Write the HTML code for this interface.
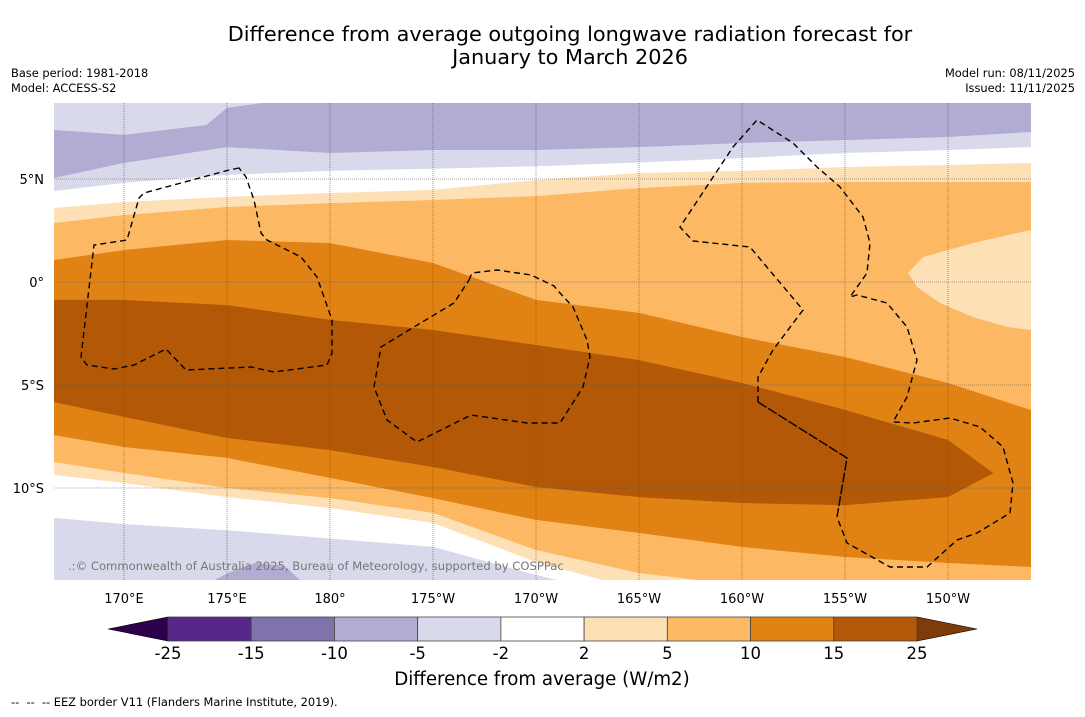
<!DOCTYPE html>
<html><head><meta charset="utf-8">
<style>
html,body{margin:0;padding:0;background:#fff;}
body{width:1085px;height:713px;overflow:hidden;font-family:"DejaVu Sans","Liberation Sans",sans-serif;}
svg text{font-family:"DejaVu Sans","Liberation Sans",sans-serif;white-space:pre;}
</style></head>
<body>
<svg id="chart" width="1085" height="713" viewBox="0 0 1085 713" xmlns="http://www.w3.org/2000/svg">
<defs><clipPath id="mapclip"><rect x="54" y="103" width="977" height="477"/></clipPath></defs>
<text x="570" y="41" font-size="20.8" text-anchor="middle">Difference from average outgoing longwave radiation forecast for</text>
<text x="570" y="64" font-size="20.8" text-anchor="middle">January to March 2026</text>
<text x="11" y="77" font-size="11.4">Base period: 1981-2018</text>
<text x="11" y="92" font-size="11.4">Model: ACCESS-S2</text>
<text x="1075" y="77" font-size="11.4" text-anchor="end">Model run: 08/11/2025</text>
<text x="1075" y="92" font-size="11.4" text-anchor="end">Issued: 11/11/2025</text>
<g id="map" clip-path="url(#mapclip)"></g>
<text x="68" y="570" font-size="11.6" fill="#777">.:© Commonwealth of Australia 2025, Bureau of Meteorology, supported by COSPPac</text>
<g id="cbar"></g>
<text x="542" y="685" font-size="18.2" text-anchor="middle">Difference from average (W/m2)</text>
<text x="11" y="706" font-size="11.4" xml:space="preserve">--  --  -- EEZ border V11 (Flanders Marine Institute, 2019).</text>
</svg>
<script>
// ---- data ----
const lons = [166.6,170,175,180,185,190,195,200,205,210,214];
const topLavLons = [166.6,170,174,175,177.5];
const topLavLat = [7.38,7.14,7.62,8.45,8.8];
const purpleLavLat = [5.05,5.78,6.55,6.26,6.41,6.41,6.55,6.75,6.89,7.04,7.28];
const lavWhiteLat = [4.42,4.81,5.20,5.40,5.50,5.62,5.80,6.02,6.26,6.41,6.55];
const whitePaleLat = [3.59,3.88,4.13,4.32,4.47,4.95,5.29,5.39,5.58,5.68,5.78];
const paleTanLat = [2.86,3.25,3.64,3.83,3.98,4.17,4.56,4.81,4.85,4.85,4.85];
const tanOrangeLat = [1.07,1.55,2.04,1.89,0.92,-0.87,-1.50,-2.67,-3.64,-4.90,-6.21];
const orangeTanLowLat = [-7.43,-8.01,-8.54,-9.51,-10.49,-11.55,-12.18,-12.86,-13.35,-13.64,-13.83];
const tanPaleLowLat = [-8.74,-9.27,-10.0,-10.49,-11.21,-13.01,-14.13,-14.71,-15.19,-15.44,-15.68];
const paleWhiteLowLat = [-9.37,-9.76,-10.44,-10.97,-11.70,-13.59,-14.95,-15.44,-15.92,-16.17,-16.41];
const whiteLavLowLat = [-11.45,-11.75,-12.05,-12.45,-12.86,-14.22,-15.44,-15.92,-16.41,-16.65,-16.89];
const darkLons = [166.6,170,175,180,185,190,195,200,205,210,212.2];
const darkUpperLat = [-0.87,-0.87,-1.12,-1.84,-2.33,-3.06,-3.79,-4.90,-6.21,-7.67,-9.27];
const darkLowerLat = [-5.83,-6.55,-7.57,-8.16,-8.98,-9.95,-10.44,-10.73,-10.83,-10.44,-9.27];
const paleBlobLon = [213.98,211.21,208.79,208.06,208.50,209.61,211.21,212.86,213.98];
const paleBlobLat = [2.52,1.89,1.21,0.44,-0.24,-1.02,-1.70,-2.18,-2.33];
const cbarLevels = ["-25","-15","-10","-5","-2","2","5","10","15","25"];
const cbarColors = ["#542788","#8073ac","#b2abd2","#d8daeb","#ffffff","#fee0b6","#fdb863","#e08214","#b35806"];
const lonTicks = [170,175,180,185,190,195,200,205,210];
const lonTickLabels = ["170°E","175°E","180°","175°W","170°W","165°W","160°W","155°W","150°W"];
const latTicks = [5,0,-5,-10];
const latTickLabels = ["5°N","0°","5°S","10°S"];

// ---- axes ----
const X = lon => 124 + (lon-170)*20.6;
const Y = lat => 282 - lat*20.6;
const NS="http://www.w3.org/2000/svg";
const map=document.getElementById('map'), cb=document.getElementById('cbar'), svg=document.getElementById('chart');
function mk(tag, attrs, parent){const e=document.createElementNS(NS,tag);for(const k in attrs)e.setAttribute(k,attrs[k]);parent.appendChild(e);return e;}
function below(ls, lats, color, name){
  let d='M'+X(ls[0])+','+Y(lats[0]);
  for(let i=1;i<ls.length;i++) d+=' L'+X(ls[i])+','+Y(lats[i]);
  d+=' L1040,'+Y(lats[lats.length-1])+' L1040,700 L40,700 L40,'+Y(lats[0])+' Z';
  const p=mk('path',{d:d,fill:color},map);
  
  
}
function above(ls, lats, color, name){
  let d='M40,90 L40,'+Y(lats[0]);
  for(let i=0;i<ls.length;i++) d+=' L'+X(ls[i])+','+Y(lats[i]);
  d+=' L'+X(ls[ls.length-1])+',90 Z';
  const p=mk('path',{d:d,fill:color},map);
  
  
}
const bg=mk('rect',{x:40,y:90,width:1010,height:620,fill:'#b2abd2'},map);


above(topLavLons, topLavLat, '#d8daeb', 'band-top-minus5-minus2');
below(lons, purpleLavLat, '#d8daeb', 'band-minus5-minus2');
below(lons, lavWhiteLat, '#ffffff', 'band-minus2-2');
below(lons, whitePaleLat, '#fee0b6', 'band-2-5');
below(lons, paleTanLat, '#fdb863', 'band-5-10');
below(lons, tanOrangeLat, '#e08214', 'band-10-15');
below(lons, orangeTanLowLat, '#fdb863', 'band-south-5-10');
below(lons, tanPaleLowLat, '#fee0b6', 'band-south-2-5');
below(lons, paleWhiteLowLat, '#ffffff', 'band-south-minus2-2');
below(lons, whiteLavLowLat, '#d8daeb', 'band-south-minus5-minus2');
let dd='M'+X(darkLons[0])+','+Y(darkUpperLat[0]);
for(let i=1;i<darkLons.length;i++) dd+=' L'+X(darkLons[i])+','+Y(darkUpperLat[i]);
for(let i=darkLons.length-1;i>=0;i--) dd+=' L'+X(darkLons[i])+','+Y(darkLowerLat[i]);
dd+=' L40,'+Y(darkLowerLat[0])+' L40,'+Y(darkUpperLat[0])+' Z';
const dk=mk('path',{d:dd,fill:'#b35806'},map);


let pd='M1040,'+Y(paleBlobLat[0]);
for(let i=0;i<paleBlobLon.length;i++) pd+=' L'+X(paleBlobLon[i])+','+Y(paleBlobLat[i]);
pd+=' L1040,'+Y(paleBlobLat[paleBlobLat.length-1])+' Z';
const pb=mk('path',{d:pd,fill:'#fee0b6'},map);


const sb=mk('path',{d:'M205,585 L230,572 L255,563 L285,566 L305,585 Z',fill:'#b2abd2'},map);



lonTicks.forEach((lo,i)=>{
  const l=mk('line',{x1:X(lo),x2:X(lo),y1:103,y2:580,stroke:'#555','stroke-width':0.6,'stroke-dasharray':'1,1'},map);
  
  
  const t=mk('text',{x:X(lo),y:603,'font-size':13,'text-anchor':'middle'},svg);
  t.textContent=lonTickLabels[i];
  
  
});
latTicks.forEach((la,i)=>{
  const l=mk('line',{x1:54,x2:1031,y1:Y(la),y2:Y(la),stroke:'#555','stroke-width':0.6,'stroke-dasharray':'1,1'},map);
  
  
  const t=mk('text',{x:44,y:Y(la)+5,'font-size':13,'text-anchor':'end'},svg);
  t.textContent=latTickLabels[i];
  
  
});

const eez=[
 'M239,168 L229,170 L144,193 L139,198 L127,240 L94,245 L81,357 L87,365 L114,369 L134,365 L166,349 L186,370 L251,367 L274,372 L327,365 L332,353 L332,320 L317,277 L301,257 L267,240 L261,233 L254,200 L246,177 Z',
 'M469,280 L472,273 L497,270 L531,275 L554,286 L560,293 L573,307 L587,340 L590,357 L583,387 L560,423 L527,423 L471,415 L417,442 L387,420 L374,387 L381,347 L404,333 L454,303 Z',
 'M758,402 L758,377 L773,350 L803,310 L750,247 L693,241 L680,227 L733,147 L757,120 L793,143 L817,167 L840,187 L863,217 L870,243 L867,273 L850,297 L857,295 L887,303 L907,327 L917,360 L907,397 L893,422 L913,423 L950,418 L980,427 L1003,447 L1013,483 L1010,513 L977,533 L957,540 L927,567 L890,567 L847,543 L837,517'
];
eez.forEach(d=>{
  const p=mk('path',{d:d,fill:'none',stroke:'#000','stroke-width':1.4,'stroke-dasharray':'6,4'},map);
  
  
});
const solid=mk('path',{d:'M758,402 L847,458 L837,517',fill:'none',stroke:'#000','stroke-width':1.4,'stroke-dasharray':'10,2'},map);



const cbX0=168, cbX1=917, cbY=617, cbH=24;
const cw=(cbX1-cbX0)/cbarColors.length;
const lt=mk('polygon',{points:`108,629 ${cbX0},${cbY} ${cbX0},${cbY+cbH}`,fill:'#2d004b',stroke:'#000','stroke-width':0.6},cb);


const rt=mk('polygon',{points:`977,629 ${cbX1},${cbY} ${cbX1},${cbY+cbH}`,fill:'#7f3b08',stroke:'#000','stroke-width':0.6},cb);


cbarColors.forEach((c,i)=>{
  const r=mk('rect',{x:cbX0+i*cw,y:cbY,width:cw,height:cbH,fill:c,stroke:'#444','stroke-width':0.8},cb);
  
  
});
cbarLevels.forEach((lv,i)=>{
  const t=mk('text',{x:cbX0+i*cw,y:659,'font-size':16.5,'text-anchor':'middle'},cb);
  t.textContent=lv;
  
  
});
</script>
</body></html>
